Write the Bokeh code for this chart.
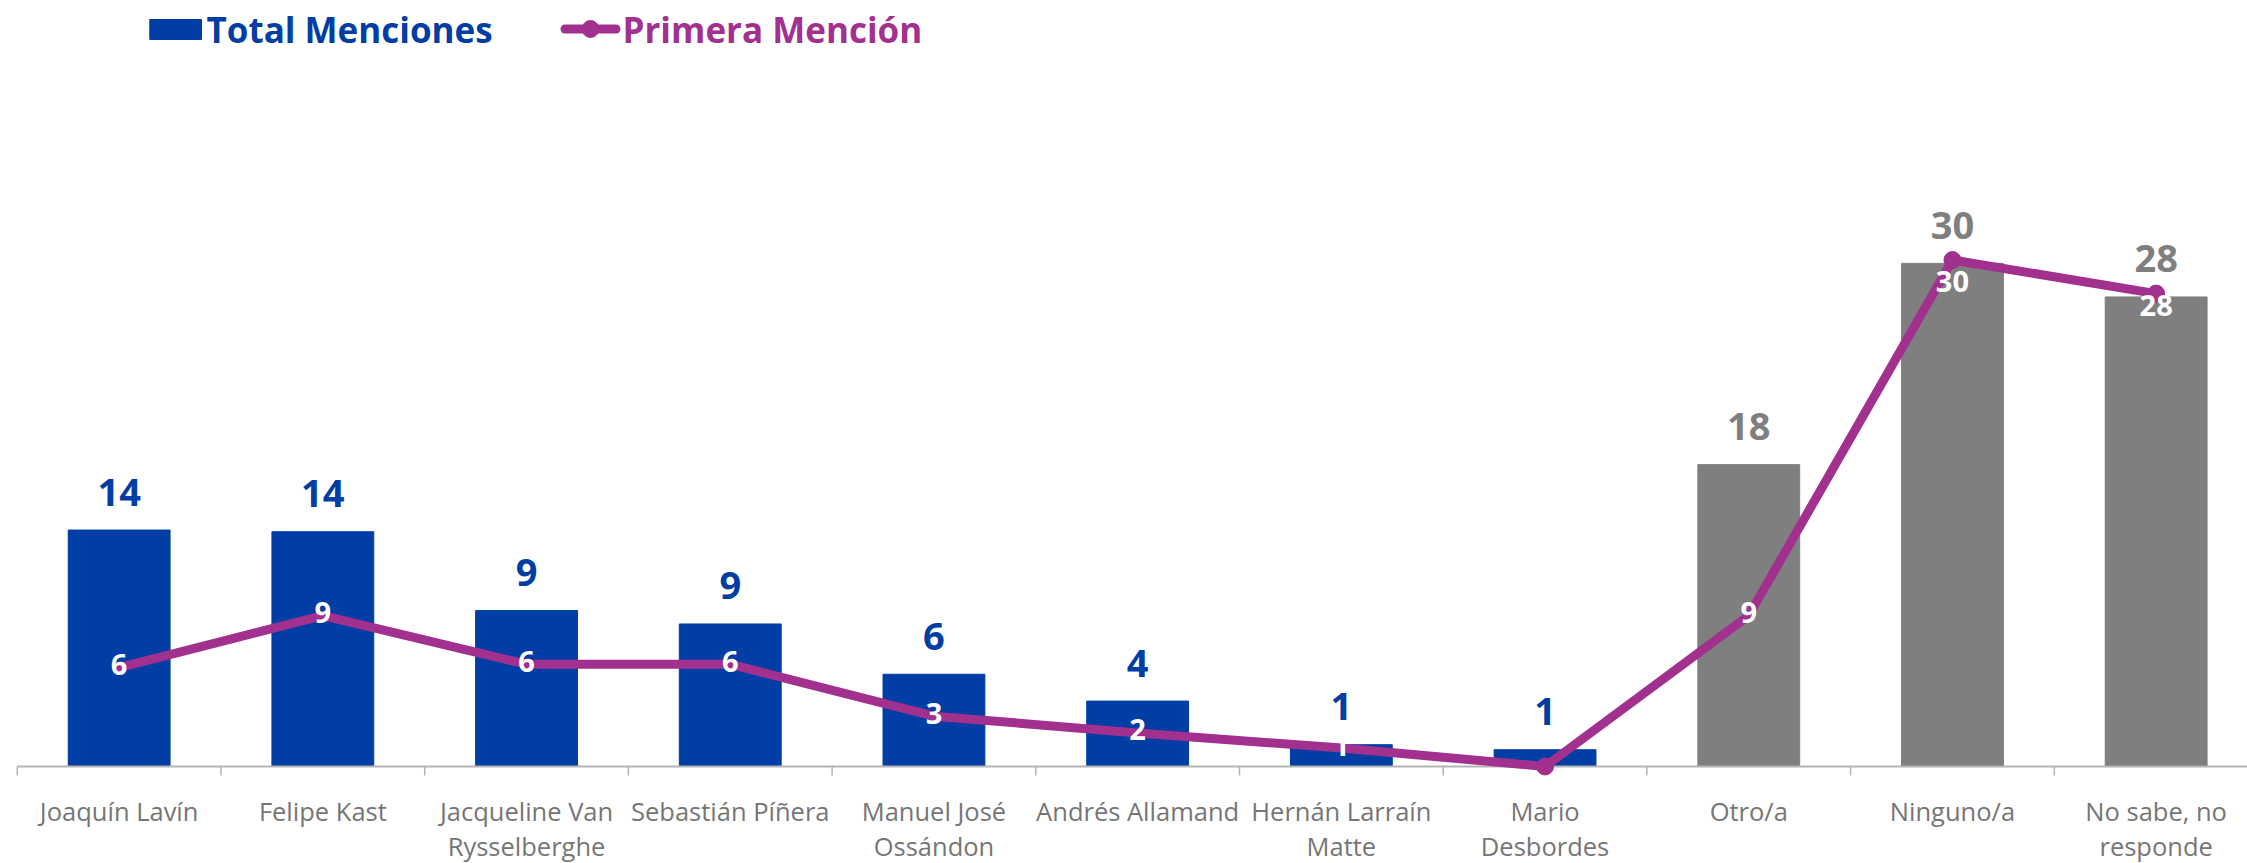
from bokeh.plotting import figure
from bokeh.models import Range1d, ColumnDataSource
from bokeh.core.properties import value
from bokeh.embed import file_html
from bokeh.resources import INLINE

# ---------------- data ----------------
categorias = ["Joaquín Lavín", "Felipe Kast", "Jacqueline Van\nRysselberghe",
              "Sebastián Píñera", "Manuel José\nOssándon", "Andrés Allamand",
              "Hernán Larraín\nMatte", "Mario\nDesbordes", "Otro/a", "Ninguno/a",
              "No sabe, no\nresponde"]
tipo = ["candidato"] * 8 + ["otro"] * 3
total_menciones = [14.1, 14.0, 9.3, 8.5, 5.5, 3.9, 1.3, 1.0, 18.0, 30.0, 28.0]
primera_mencion = [5.9, 9.0, 6.1, 6.1, 3.0, 2.0, 1.1, 0.0, 9.0, 30.2, 28.2]
con_marcador = [7, 9, 10]          # points whose marker is visible
serie_total = "Total Menciones"
serie_primera = "Primera Mención"

# ---------------- style ----------------
BLUE = "#003DA5"
PURPLE = "#A2308F"
GRAY = "#7F7F7F"
AXIS = "#B4B4B4"
LABEL = "#767676"
FONT = value("Open Sans")

W, H = 2247, 863
# pixel geometry -> data coords
X0_PX, STEP_PX = 16.8, 203.7       # first category boundary, category width
BASE_PX, UNIT_PX = 766.0, 16.77    # baseline, px per unit


def X(px):
    return (px - X0_PX) / STEP_PX


def Y(py):
    return (BASE_PX - py) / UNIT_PX


n = len(categorias)
centers = [i + 0.5 for i in range(n)]

p = figure(width=W, height=H, output_backend="svg", toolbar_location=None,
           x_range=Range1d(X(0), X(W)), y_range=Range1d(Y(H), Y(0)),
           x_axis_type=None, y_axis_type=None, min_border=0)
p.grid.visible = False
p.outline_line_color = None
p.background_fill_color = "white"
p.border_fill_color = "white"

bar_colors = [BLUE if t == "candidato" else GRAY for t in tipo]
bar_src = ColumnDataSource(dict(
    x=centers, top=total_menciones, color=bar_colors,
    label=[str(int(v + 0.5)) for v in total_menciones]))
p.vbar(x="x", top="top", bottom=0, width=0.5, color="color", source=bar_src)

# axis line and ticks
p.segment(x0=[0], y0=[0], x1=[n], y1=[0], line_color=AXIS, line_width=2)
ticks = list(range(n + 1))
tick_len = 9 / UNIT_PX
p.segment(x0=ticks, y0=[0] * len(ticks), x1=ticks, y1=[-tick_len] * len(ticks),
          line_color=AXIS, line_width=1.5)

# value labels above bars
p.text(x="x", y="top", text="label", source=bar_src, text_color="color",
       text_font=FONT, text_font_style="bold", text_font_size="38px",
       text_align="center", text_baseline="middle", y_offset=-38)

# line series
p.line(centers, primera_mencion, line_color=PURPLE, line_width=9,
       line_join="round", line_cap="round")
p.scatter([centers[i] for i in con_marcador], [primera_mencion[i] for i in con_marcador],
          size=17, color=PURPLE)

lab_offsets = [-3] * n
lab_offsets[9] = 21
lab_offsets[10] = 12
idx = [i for i in range(n) if int(primera_mencion[i] + 0.5) > 0]
line_src = ColumnDataSource(dict(
    x=[centers[i] for i in idx], y=[primera_mencion[i] for i in idx],
    label=[str(int(primera_mencion[i] + 0.5)) for i in idx],
    off=[lab_offsets[i] for i in idx]))
p.text(x="x", y="y", text="label", source=line_src, text_color="white",
       text_font=FONT, text_font_style="bold", text_font_size="29px",
       text_align="center", text_baseline="middle", y_offset="off")

# category labels (two lines drawn separately)
linea1 = [c.split("\n")[0] for c in categorias]
dos = [i for i, c in enumerate(categorias) if "\n" in c]
linea2 = [categorias[i].split("\n")[1] for i in dos]
p.text(x=centers, y=[Y(810.5)] * n, text=linea1, text_color=LABEL,
       text_font=FONT, text_font_size="25.5px", text_align="center",
       text_baseline="middle")
p.text(x=[centers[i] for i in dos], y=[Y(845.5)] * len(dos), text=linea2,
       text_color=LABEL, text_font=FONT, text_font_size="25.5px",
       text_align="center", text_baseline="middle")

# legend (drawn)
p.quad(left=[X(149.3)], right=[X(201)], top=[Y(19)], bottom=[Y(39)], color=BLUE)
p.text(x=[X(206)], y=[Y(28.5)], text=[serie_total], text_color=BLUE, text_font=FONT,
       text_font_style="bold", text_font_size="35px", text_baseline="middle")
p.segment(x0=[X(564.5)], y0=[Y(28.5)], x1=[X(615.5)], y1=[Y(28.5)],
          line_color=PURPLE, line_width=9, line_cap="round")
p.scatter([X(590)], [Y(28.5)], size=17, color=PURPLE)
p.text(x=[X(622)], y=[Y(28.5)], text=[serie_primera], text_color=PURPLE, text_font=FONT,
       text_font_style="bold", text_font_size="35px", text_baseline="middle")

open("out.html", "w").write(file_html(p, INLINE))
